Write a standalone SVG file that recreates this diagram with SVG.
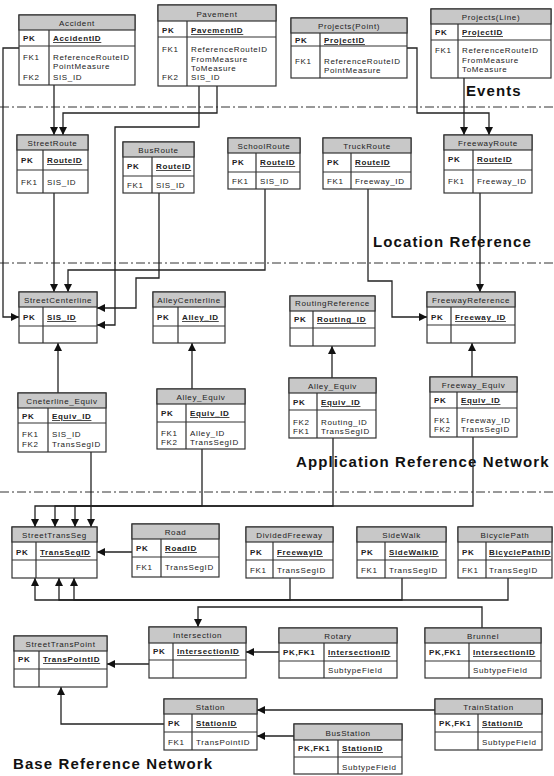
<svg xmlns="http://www.w3.org/2000/svg" width="554" height="776" viewBox="0 0 554 776">
<style>
.bx{fill:#fff;stroke:#333;stroke-width:1.2}
.hd{fill:#c8c8c8;stroke:#333;stroke-width:1.2}
.ln{stroke:#333;stroke-width:1.2;fill:none}
text{font-family:"Liberation Sans",Arial,Helvetica,sans-serif;font-size:8px;letter-spacing:0.65px;fill:#222}
.h{text-anchor:middle}
.b{font-weight:bold}
.k{font-weight:bold;text-decoration:underline}
.lbl{font-size:15px;font-weight:bold;letter-spacing:1.1px;fill:#111}
.c{fill:none;stroke:#222;stroke-width:1.3}
.a{marker-end:url(#arr)}
.sep{stroke:#333;stroke-width:1;stroke-dasharray:9 3 2 3}
</style>
<defs>
<marker id="arr" markerUnits="userSpaceOnUse" markerWidth="8" markerHeight="8" refX="8" refY="4" orient="auto">
<path d="M0,0 L8,4 L0,8 z" fill="#111"/>
</marker>
</defs>

<g id="separators">
<line class="sep" x1="0" y1="107" x2="554" y2="107"/>
<line class="sep" x1="0" y1="263" x2="554" y2="263"/>
<line class="sep" x1="0" y1="492" x2="554" y2="492"/>
</g>

<g id="labels">
<text class="lbl" x="466" y="96">Events</text>
<text class="lbl" x="373" y="247">Location Reference</text>
<text class="lbl" x="296" y="467">Application Reference Network</text>
<text class="lbl" x="13" y="769">Base Reference Network</text>
</g>

<g id="connectors">
<path class="c a" d="M19,48 H3 V317 H19"/>
<path class="c a" d="M54,85 V135"/>
<path class="c a" d="M217,86 V113 H63 V135"/>
<path class="c a" d="M199,86 V127 H115 V325 H97"/>
<path class="c a" d="M54,193 V292"/>
<path class="c a" d="M159,193 V278 H136 V308 H97"/>
<path class="c a" d="M265,189 V270 H68 V292"/>
<path class="c a" d="M407,48 H417 V113 H489 V135"/>
<path class="c a" d="M464,78 V135"/>
<path class="c a" d="M368,189 V281 H392 V317 H427"/>
<path class="c a" d="M480,193 V292"/>
<path class="c a" d="M58,393 V343"/>
<path class="c a" d="M192,389 V343"/>
<path class="c a" d="M332,378 V346"/>
<path class="c a" d="M472,377 V343"/>
<path class="c a" d="M91,452 V527"/>
<path class="c a" d="M202,449 V506 H75 V527"/>
<path class="c a" d="M333,438 V506 H55 V527"/>
<path class="c a" d="M473,437 V506 H35 V527"/>
<path class="c a" d="M132,552 H97"/>
<path class="c a" d="M290,578 V600 H74 V578"/>
<path class="c a" d="M402,578 V600 H59 V578"/>
<path class="c a" d="M508,578 V600 H35 V578"/>
<path class="c a" d="M482,628 V607 H198 V627"/>
<path class="c a" d="M279,652 H246"/>
<path class="c a" d="M176,664 H107"/>
<path class="c a" d="M164,724 H61 V687"/>
<path class="c a" d="M435,710 H257"/>
<path class="c a" d="M294,736 H257"/>
</g>

<g id="Accident">
<rect class="bx" x="19" y="15" width="116" height="70"/>
<rect class="hd" x="19" y="15" width="116" height="15"/>
<path class="ln" d="M19,46 H135 M49,30 V85"/>
<text class="h" x="77" y="26">Accident</text>
<text class="b" x="23" y="41">PK</text><text class="k" x="53" y="41">AccidentID</text>
<text x="23" y="60">FK1</text><text x="53" y="60">ReferenceRouteID</text>
<text x="53" y="69">PointMeasure</text>
<text x="23" y="80">FK2</text><text x="53" y="80">SIS_ID</text>
</g>

<g id="Pavement">
<rect class="bx" x="158" y="5" width="118" height="81"/>
<rect class="hd" x="158" y="5" width="118" height="16"/>
<path class="ln" d="M158,37 H276 M187,21 V86"/>
<text class="h" x="217" y="17">Pavement</text>
<text class="b" x="162" y="33">PK</text><text class="k" x="191" y="33">PavementID</text>
<text x="162" y="52">FK1</text><text x="191" y="52">ReferenceRouteID</text>
<text x="191" y="61.5">FromMeasure</text>
<text x="191" y="71">ToMeasure</text>
<text x="162" y="80">FK2</text><text x="191" y="80">SIS_ID</text>
</g>

<g id="ProjectsPoint">
<rect class="bx" x="291" y="18" width="116" height="60"/>
<rect class="hd" x="291" y="18" width="116" height="15"/>
<path class="ln" d="M291,46 H407 M320,33 V78"/>
<text class="h" x="349" y="29">Projects(Point)</text>
<text class="b" x="295" y="43">PK</text><text class="k" x="324" y="43">ProjectID</text>
<text x="295" y="64">FK1</text><text x="324" y="64">ReferenceRouteID</text>
<text x="324" y="72.5">PointMeasure</text>
</g>

<g id="ProjectsLine">
<rect class="bx" x="431" y="9" width="120" height="69"/>
<rect class="hd" x="431" y="9" width="120" height="15"/>
<path class="ln" d="M431,40 H551 M458,24 V78"/>
<text class="h" x="491" y="20">Projects(Line)</text>
<text class="b" x="435" y="35">PK</text><text class="k" x="462" y="35">ProjectID</text>
<text x="435" y="53">FK1</text><text x="462" y="53">ReferenceRouteID</text>
<text x="462" y="62.5">FromMeasure</text>
<text x="462" y="72">ToMeasure</text>
</g>

<g id="StreetRoute">
<rect class="bx" x="17" y="135" width="71" height="58"/>
<rect class="hd" x="17" y="135" width="71" height="15"/>
<path class="ln" d="M17,170 H88 M43,150 V193"/>
<text class="h" x="52.5" y="146">StreetRoute</text>
<text class="b" x="21" y="163">PK</text><text class="k" x="47" y="163">RouteID</text>
<text x="21" y="185">FK1</text><text x="47" y="185">SIS_ID</text>
</g>

<g id="BusRoute">
<rect class="bx" x="123" y="142" width="71" height="51"/>
<rect class="hd" x="123" y="142" width="71" height="15"/>
<path class="ln" d="M123,176 H194 M152,157 V193"/>
<text class="h" x="158.5" y="153">BusRoute</text>
<text class="b" x="127" y="169">PK</text><text class="k" x="156" y="169">RouteID</text>
<text x="127" y="188">FK1</text><text x="156" y="188">SIS_ID</text>
</g>

<g id="SchoolRoute">
<rect class="bx" x="228" y="138" width="72" height="51"/>
<rect class="hd" x="228" y="138" width="72" height="15"/>
<path class="ln" d="M228,172 H300 M256,153 V189"/>
<text class="h" x="264" y="149">SchoolRoute</text>
<text class="b" x="232" y="165">PK</text><text class="k" x="260" y="165">RouteID</text>
<text x="232" y="184">FK1</text><text x="260" y="184">SIS_ID</text>
</g>

<g id="TruckRoute">
<rect class="bx" x="323" y="138" width="88" height="51"/>
<rect class="hd" x="323" y="138" width="88" height="15"/>
<path class="ln" d="M323,172 H411 M351,153 V189"/>
<text class="h" x="367" y="149">TruckRoute</text>
<text class="b" x="327" y="165">PK</text><text class="k" x="355" y="165">RouteID</text>
<text x="327" y="184">FK1</text><text x="355" y="184">Freeway_ID</text>
</g>

<g id="FreewayRoute">
<rect class="bx" x="444" y="135" width="88" height="58"/>
<rect class="hd" x="444" y="135" width="88" height="15"/>
<path class="ln" d="M444,170 H532 M473,150 V193"/>
<text class="h" x="488" y="146">FreewayRoute</text>
<text class="b" x="448" y="162">PK</text><text class="k" x="477" y="162">RouteID</text>
<text x="448" y="184">FK1</text><text x="477" y="184">Freeway_ID</text>
</g>

<g id="StreetCenterline">
<rect class="bx" x="19" y="292" width="78" height="51"/>
<rect class="hd" x="19" y="292" width="78" height="15"/>
<path class="ln" d="M19,326 H97 M43,307 V343"/>
<text class="h" x="58" y="303">StreetCenterline</text>
<text class="b" x="23" y="320">PK</text><text class="k" x="47" y="320">SIS_ID</text>
</g>

<g id="AlleyCenterline">
<rect class="bx" x="153" y="292" width="72" height="51"/>
<rect class="hd" x="153" y="292" width="72" height="15"/>
<path class="ln" d="M153,326 H225 M178,307 V343"/>
<text class="h" x="189" y="303">AlleyCenterline</text>
<text class="b" x="157" y="320">PK</text><text class="k" x="182" y="320">Alley_ID</text>
</g>

<g id="RoutingReference">
<rect class="bx" x="290" y="296" width="85" height="50"/>
<rect class="hd" x="290" y="296" width="85" height="15"/>
<path class="ln" d="M290,328 H375 M313,311 V346"/>
<text class="h" x="332.5" y="306">RoutingReference</text>
<text class="b" x="294" y="322">PK</text><text class="k" x="317" y="322">Routing_ID</text>
</g>

<g id="FreewayReference">
<rect class="bx" x="427" y="292" width="88" height="51"/>
<rect class="hd" x="427" y="292" width="88" height="15"/>
<path class="ln" d="M427,325 H515 M451,307 V343"/>
<text class="h" x="471" y="303">FreewayReference</text>
<text class="b" x="431" y="320">PK</text><text class="k" x="455" y="320">Freeway_ID</text>
</g>

<g id="CneterlineEquiv">
<rect class="bx" x="18" y="393" width="88" height="59"/>
<rect class="hd" x="18" y="393" width="88" height="15"/>
<path class="ln" d="M18,423 H106 M48,408 V452"/>
<text class="h" x="62" y="404">Cneterline_Equiv</text>
<text class="b" x="22" y="419">PK</text><text class="k" x="52" y="419">Equiv_ID</text>
<text x="22" y="437">FK1</text><text x="52" y="437">SIS_ID</text>
<text x="22" y="447">FK2</text><text x="52" y="447">TransSegID</text>
</g>

<g id="AlleyEquivL">
<rect class="bx" x="157" y="389" width="88" height="60"/>
<rect class="hd" x="157" y="389" width="88" height="15"/>
<path class="ln" d="M157,422 H245 M186,404 V449"/>
<text class="h" x="201" y="400">Alley_Equiv</text>
<text class="b" x="161" y="416">PK</text><text class="k" x="190" y="416">Equiv_ID</text>
<text x="161" y="436">FK1</text><text x="190" y="436">Alley_ID</text>
<text x="161" y="445">FK2</text><text x="190" y="445">TransSegID</text>
</g>

<g id="AlleyEquivR">
<rect class="bx" x="289" y="378" width="87" height="60"/>
<rect class="hd" x="289" y="378" width="87" height="15"/>
<path class="ln" d="M289,410 H376 M317,393 V438"/>
<text class="h" x="332.5" y="389">Alley_Equiv</text>
<text class="b" x="293" y="405">PK</text><text class="k" x="321" y="405">Equiv_ID</text>
<text x="293" y="425">FK2</text><text x="321" y="425">Routing_ID</text>
<text x="293" y="434">FK1</text><text x="321" y="434">TransSegID</text>
</g>

<g id="FreewayEquiv">
<rect class="bx" x="430" y="377" width="87" height="60"/>
<rect class="hd" x="430" y="377" width="87" height="15"/>
<path class="ln" d="M430,408 H517 M457,392 V437"/>
<text class="h" x="473.5" y="388">Freeway_Equiv</text>
<text class="b" x="434" y="403">PK</text><text class="k" x="461" y="403">Equiv_ID</text>
<text x="434" y="423">FK1</text><text x="461" y="423">Freeway_ID</text>
<text x="434" y="432">FK2</text><text x="461" y="432">TransSegID</text>
</g>

<g id="StreetTransSeg">
<rect class="bx" x="12" y="527" width="85" height="51"/>
<rect class="hd" x="12" y="527" width="85" height="15"/>
<path class="ln" d="M12,560 H97 M36,542 V578"/>
<text class="h" x="54.5" y="538">StreetTransSeg</text>
<text class="b" x="16" y="555">PK</text><text class="k" x="40" y="555">TransSegID</text>
</g>

<g id="Road">
<rect class="bx" x="132" y="524" width="87" height="53"/>
<rect class="hd" x="132" y="524" width="87" height="15"/>
<path class="ln" d="M132,557 H219 M161,539 V577"/>
<text class="h" x="175.5" y="535">Road</text>
<text class="b" x="136" y="551">PK</text><text class="k" x="165" y="551">RoadID</text>
<text x="136" y="570">FK1</text><text x="165" y="570">TransSegID</text>
</g>

<g id="DividedFreeway">
<rect class="bx" x="246" y="527" width="87" height="51"/>
<rect class="hd" x="246" y="527" width="87" height="15"/>
<path class="ln" d="M246,560 H333 M273,542 V578"/>
<text class="h" x="289.5" y="538">DividedFreeway</text>
<text class="b" x="250" y="555">PK</text><text class="k" x="277" y="555">FreewayID</text>
<text x="250" y="573">FK1</text><text x="277" y="573">TransSegID</text>
</g>

<g id="SideWalk">
<rect class="bx" x="357" y="527" width="89" height="51"/>
<rect class="hd" x="357" y="527" width="89" height="15"/>
<path class="ln" d="M357,560 H446 M385,542 V578"/>
<text class="h" x="401.5" y="538">SideWalk</text>
<text class="b" x="361" y="555">PK</text><text class="k" x="389" y="555">SideWalkID</text>
<text x="361" y="573">FK1</text><text x="389" y="573">TransSegID</text>
</g>

<g id="BicyclePath">
<rect class="bx" x="458" y="527" width="94" height="51"/>
<rect class="hd" x="458" y="527" width="94" height="15"/>
<path class="ln" d="M458,560 H552 M486,542 V578"/>
<text class="h" x="505" y="538">BicyclePath</text>
<text class="b" x="462" y="555">PK</text><text class="k" x="489" y="555" letter-spacing="0.4">BicyclePathID</text>
<text x="462" y="573">FK1</text><text x="489" y="573">TransSegID</text>
</g>

<g id="StreetTransPoint">
<rect class="bx" x="14" y="636" width="93" height="51"/>
<rect class="hd" x="14" y="636" width="93" height="15"/>
<path class="ln" d="M14,669 H107 M39,651 V687"/>
<text class="h" x="60.5" y="647">StreetTransPoint</text>
<text class="b" x="18" y="662">PK</text><text class="k" x="43" y="662">TransPointID</text>
</g>

<g id="Intersection">
<rect class="bx" x="149" y="627" width="97" height="51"/>
<rect class="hd" x="149" y="627" width="97" height="16"/>
<path class="ln" d="M149,660 H246 M173,643 V678"/>
<text class="h" x="197.5" y="638">Intersection</text>
<text class="b" x="153" y="654">PK</text><text class="k" x="177" y="654">IntersectionID</text>
</g>

<g id="Rotary">
<rect class="bx" x="279" y="628" width="118" height="50"/>
<rect class="hd" x="279" y="628" width="118" height="15"/>
<path class="ln" d="M279,661 H397 M324,643 V678"/>
<text class="h" x="338" y="639">Rotary</text>
<text class="b" x="283" y="655">PK,FK1</text><text class="k" x="328" y="655">IntersectionID</text>
<text x="328" y="673">SubtypeField</text>
</g>

<g id="Brunnel">
<rect class="bx" x="425" y="628" width="116" height="50"/>
<rect class="hd" x="425" y="628" width="116" height="15"/>
<path class="ln" d="M425,661 H541 M469,643 V678"/>
<text class="h" x="483" y="639">Brunnel</text>
<text class="b" x="429" y="655">PK,FK1</text><text class="k" x="473" y="655">IntersectionID</text>
<text x="473" y="673">SubtypeField</text>
</g>

<g id="Station">
<rect class="bx" x="164" y="699" width="93" height="51"/>
<rect class="hd" x="164" y="699" width="93" height="15"/>
<path class="ln" d="M164,732 H257 M192,714 V750"/>
<text class="h" x="210.5" y="710">Station</text>
<text class="b" x="168" y="726">PK</text><text class="k" x="196" y="726">StationID</text>
<text x="168" y="745">FK1</text><text x="196" y="745">TransPointID</text>
</g>

<g id="TrainStation">
<rect class="bx" x="435" y="699" width="107" height="51"/>
<rect class="hd" x="435" y="699" width="107" height="15"/>
<path class="ln" d="M435,732 H542 M478,714 V750"/>
<text class="h" x="488.5" y="710">TrainStation</text>
<text class="b" x="439" y="726">PK,FK1</text><text class="k" x="482" y="726">StationID</text>
<text x="482" y="745">SubtypeField</text>
</g>

<g id="BusStation">
<rect class="bx" x="294" y="724" width="108" height="50"/>
<rect class="hd" x="294" y="724" width="108" height="16"/>
<path class="ln" d="M294,757 H402 M338,740 V774"/>
<text class="h" x="348" y="736">BusStation</text>
<text class="b" x="298" y="751">PK,FK1</text><text class="k" x="342" y="751">StationID</text>
<text x="342" y="770">SubtypeField</text>
</g>
</svg>
